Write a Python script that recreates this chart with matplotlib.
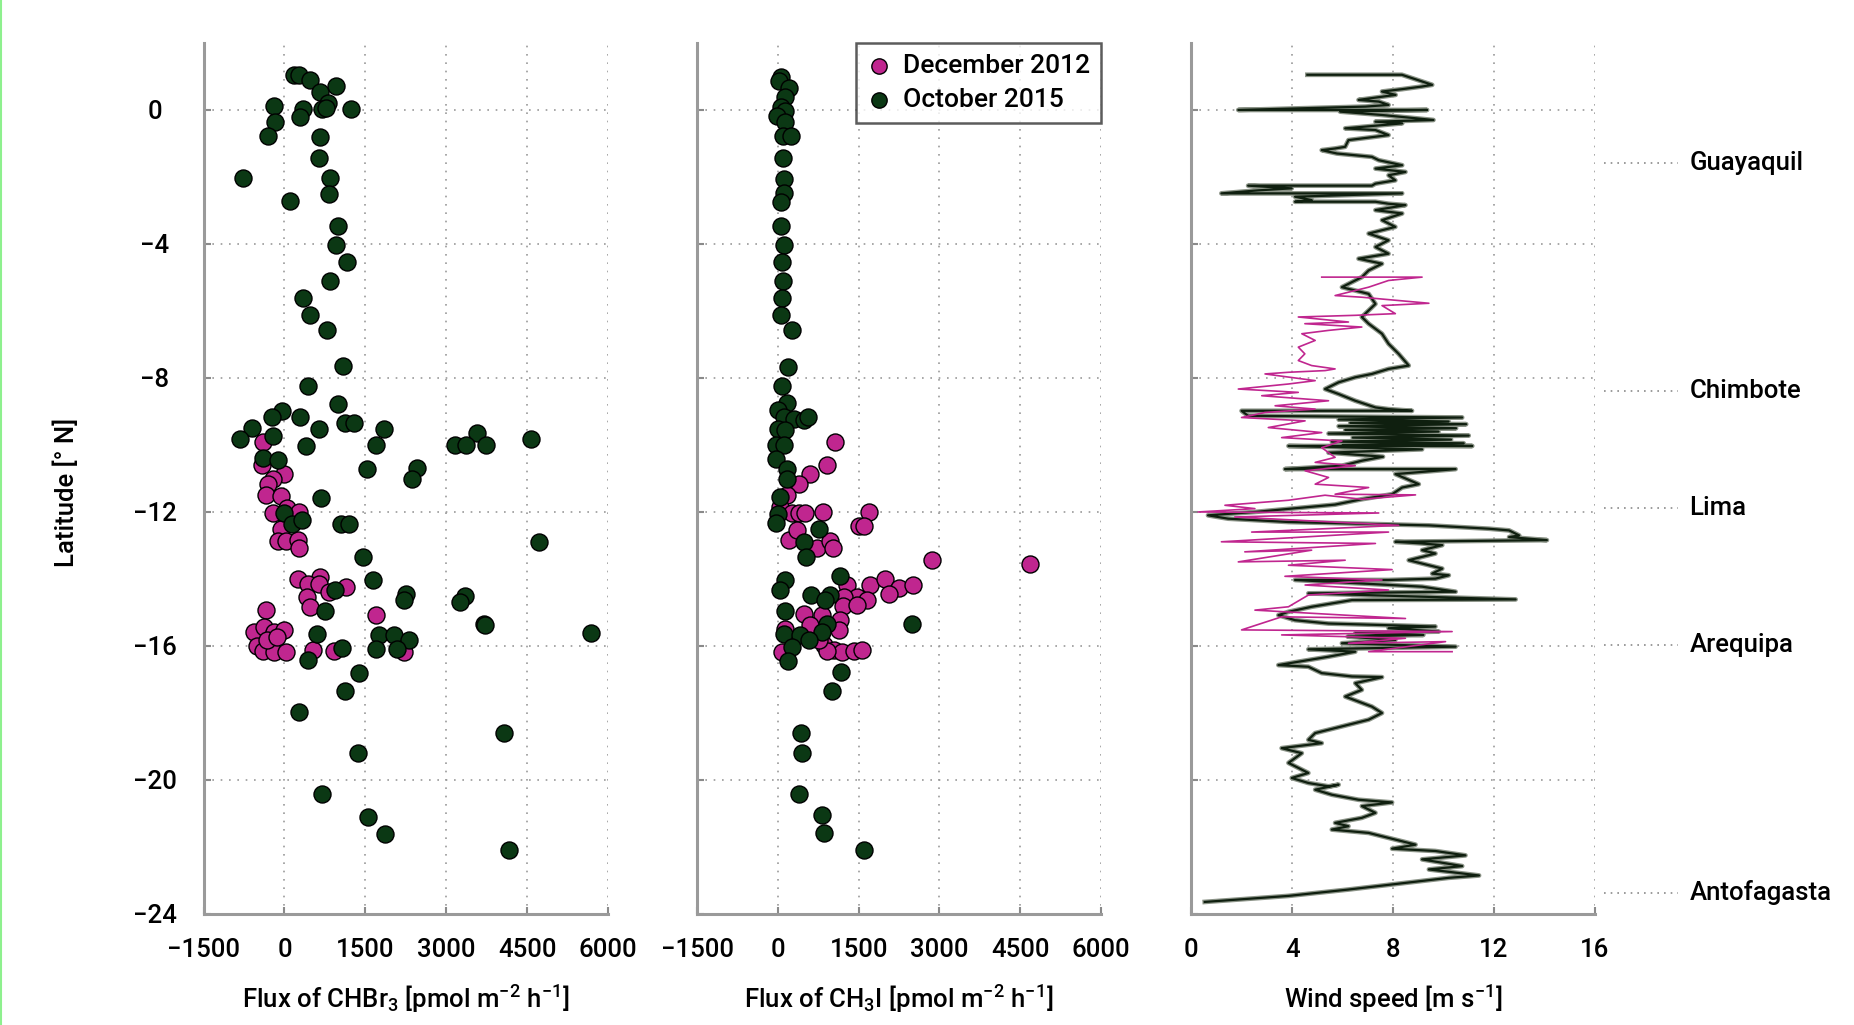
import matplotlib
matplotlib.use("Agg")
import matplotlib.pyplot as plt
import matplotlib.patheffects as pe
from matplotlib.lines import Line2D

plt.rcParams["font.family"] = ["Roboto", "DejaVu Sans"]
plt.rcParams["font.weight"] = "medium"
plt.rcParams["axes.labelweight"] = "medium"
plt.rcParams["mathtext.fontset"] = "custom"
plt.rcParams["mathtext.rm"] = "Roboto:medium"
plt.rcParams["mathtext.it"] = "Roboto:italic"

PINK = "#c0268f"
GREEN = "#0b3814"
LINE_DARK = "#0f1f0f"

# ---- CHBr3 flux (left panel) ----
chbr3_dec = [-395, -414, 0, -210, -309, -340, -62, 49, -210, 265, -62, -123, 19, 253, 278,
             253, 667, 432, 636, 1148, 821, 420, 481, 1704, -346, -568, -383, -198, -12,
             -506, -395, -185, 37, -321, 531, 926, 2210, -136]
lat_chbr3_dec = [-9.92, -10.61, -10.86, -11.01, -11.17, -11.48, -11.52, -11.87, -12.03, -12.00,
                 -12.50, -12.88, -12.88, -12.85, -13.09, -13.99, -13.94, -14.16, -14.14, -14.24,
                 -14.39, -14.54, -14.84, -15.08, -14.94, -15.58, -15.43, -15.58, -15.51, -16.01,
                 -16.15, -16.18, -16.18, -15.83, -16.13, -16.15, -16.18, -15.73]

chbr3_oct = [173, 265, 481, 963, 660, 802, -185, 340, 698, 778, 1241, 296, -179, -302, 660,
             636, -765, 840, 827, 105, 988, 951, 1167, 840, 340, 469, 784,
             1080, 432, 1000, -49, -228, 284, 1117, 1296, 1840, -593, 636, -210, -833, 401,
             1698, 3568, 3167, 3370, 3741, 4562, -395, -123, 1525, 2463, 2358, 679, -6, 148,
             327, 1049, 1204, 4716, 1457, 1636, 2253, 2222, 3340, 3259, 944, 759, 3692, 3710,
             5685, 605, 1747, 2037, 2315, 1698, 2086, 1068, 438, 1377, 1123,
             265, 4068, 1364, 691, 1549, 1870, 4161]
lat_chbr3_oct = [1.03, 1.03, 0.88, 0.70, 0.53, 0.20, 0.12, 0.03, 0.02, 0.05, 0.02, -0.20, -0.36,
                 -0.77, -0.80, -1.44, -2.04, -2.03, -2.51, -2.73, -3.45, -4.04, -4.55, -5.12,
                 -5.61, -6.13, -6.58,
                 -7.65, -8.25, -8.77, -8.99, -9.18, -9.18, -9.33, -9.33, -9.52, -9.49, -9.51,
                 -9.72, -9.82, -10.04, -10.01, -9.64, -10.01, -10.01, -10.01, -9.82, -10.39,
                 -10.44, -10.72, -10.69, -11.02, -11.58, -12.03, -12.35, -12.25, -12.35, -12.35,
                 -12.90, -13.35, -14.03, -14.44, -14.64, -14.51, -14.69, -14.34, -14.97, -15.35,
                 -15.37, -15.60, -15.65, -15.67, -15.67, -15.83, -16.08, -16.08, -16.05, -16.43,
                 -16.80, -17.35,
                 -17.97, -18.60, -19.18, -20.43, -21.09, -21.61, -22.10]

# ---- CH3I flux (middle panel) ----
ch3i_dec = [1064, 909, 588, 384, 167, 31, 260, 384, 507, 835, 1683, 1497, 1590, 198, 353,
            724, 971, 1021, 2864, 4683, 1281, 1713, 1992, 2252, 2066, 2505, 1466, 1652, 1219,
            1206, 1466, 476, 816, 1157, 1126, 136, 600, 847, 1033, 1188, 1404, 1559, 74, 909,
            755]
lat_ch3i_dec = [-9.91, -10.61, -10.86, -11.17, -11.50, -11.85, -12.03, -12.03, -12.03, -12.00,
                -12.00, -12.43, -12.43, -12.85, -12.55, -13.09, -12.87, -13.09, -13.42, -13.54,
                -14.19, -14.19, -13.99, -14.26, -14.44, -14.19, -14.54, -14.62, -14.54, -14.82,
                -14.79, -15.05, -15.08, -15.23, -15.53, -15.48, -15.38, -15.98, -16.13, -16.18,
                -16.15, -16.11, -16.18, -16.15, -15.83]

ch3i_oct = [56, 17, 202, 135, 50, 135, -17, 135, 96, 247, 96, 117, 117, 50, 50, 117, 69, 82,
            69, 50, 262, 182, 69,
            167, -6, 105, 303, 476, 551, -6, 136, -31, 105, -31, 167, 167, 31, -6, -31, 755,
            489, 520, 1157, 136, 43, 612, 959, 878, 136, 2499, 909, 105, 414, 816, 569, 260,
            179, 1169, 1002,
            427, 447, 388, 818, 857, 1594]
lat_ch3i_oct = [0.99, 0.87, 0.67, 0.38, 0.08, -0.02, -0.17, -0.37, -0.79, -0.79, -1.44, -2.06,
                -2.49, -2.76, -3.45, -4.03, -4.55, -5.12, -5.61, -6.12, -6.58, -7.66, -8.25,
                -8.75, -8.97, -9.16, -9.21, -9.26, -9.18, -9.51, -9.56, -10.01, -10.01, -10.41,
                -10.71, -11.02, -11.55, -12.05, -12.33, -12.50, -12.90, -13.34, -13.92, -14.02,
                -14.32, -14.47, -14.49, -14.64, -14.97, -15.33, -15.33, -15.63, -15.68, -15.58,
                -15.83, -16.03, -16.45, -16.78, -17.35,
                -18.60, -19.18, -20.42, -21.06, -21.58, -22.08]

# ---- Wind speed (right panel) ----
wind_oct = [4.6, 8.35, 9.55, 9.15, 8.35, 7.56, 8.1, 6.63, 7.43, 7.82, 6.9, 1.86, 9.35, 5.9,
            7.56, 9.6, 7.3, 8.36, 6.1, 7.3, 7.82, 6.23, 6.1, 5.7, 5.17, 5.77, 7.16, 7.43, 8.36,
            7.3, 8.49, 7.82, 8.09, 7.3, 7.16, 2.25, 3.98, 2.65, 1.19, 8.36, 4.11, 4.77, 4.11,
            7.3, 7.82, 8.49, 7.3, 8.36, 7.56, 8.09, 7.03, 7.82, 7.3, 7.82, 6.63, 7.56, 7.03,
            6.76, 5.97, 7.03, 7.3, 6.76, 7.03, 7.56, 7.82, 8.22, 8.62, 7.82, 7.16, 6.5, 5.84,
            5.3, 5.84, 6.5, 7.3, 7.82, 8.75, 1.99, 2.25, 10.74, 5.84, 10.2, 6.3, 10.9, 5.84,
            10.5, 6.1, 9.8, 5.44, 11.0, 6.4, 10.3, 5.57, 10.8, 6.0, 11.14, 3.85, 9.15, 5.44,
            7.6, 6.76, 5.97, 3.71, 10.48, 8.09, 9.02, 8.36, 7.96, 6.76, 5.7, 4.24, 2.52, 0.66,
            1.46, 3.85, 9.42, 11.8, 12.6, 13.0, 12.6, 14.1, 8.09, 9.15, 9.95, 9.15, 9.68, 8.62,
            9.42, 9.95, 9.55, 10.21, 9.68, 7.82, 4.11, 9.15, 10.48, 4.64, 12.86, 6.37, 4.77,
            3.85, 3.45, 4.11, 5.44, 9.68, 7.82, 9.81, 6.5, 9.2, 6.2, 8.09, 5.97, 10.48, 4.64,
            6.5, 5.44, 3.45, 4.64, 5.17, 6.37, 7.56, 6.5, 6.76, 6.1, 7.16, 7.56, 7.03, 5.97,
            4.91, 4.64, 5.17, 3.58, 4.38, 3.85, 4.64, 3.98, 4.64, 5.44, 5.84, 4.91, 5.57, 6.63,
            7.96, 6.76, 7.3, 6.76, 5.7, 6.23, 5.57, 7.03, 8.09, 8.89, 7.96, 9.68, 10.87, 9.15,
            10.74, 9.42, 11.41, 10.21, 8.49, 6.23, 3.85, 0.53]
lat_oct = [1.05, 1.05, 0.75, 0.7, 0.62, 0.55, 0.45, 0.3, 0.25, 0.15, 0.1, 0.0, 0.0, -0.05,
           -0.15, -0.3, -0.35, -0.4, -0.55, -0.6, -0.75, -0.9, -1.1, -1.15, -1.2, -1.3, -1.4,
           -1.5, -1.65, -1.75, -1.85, -1.95, -2.1, -2.2, -2.26, -2.26, -2.34, -2.4, -2.49,
           -2.49, -2.59, -2.69, -2.74, -2.74, -2.8, -2.84, -2.99, -3.09, -3.29, -3.49, -3.69,
           -3.89, -4.09, -4.29, -4.44, -4.59, -4.79, -4.99, -5.29, -5.49, -5.79, -6.18, -6.38,
           -6.68, -6.98, -7.28, -7.63, -7.73, -7.88, -7.98, -8.13, -8.33, -8.48, -8.68, -8.88,
           -8.93, -8.98, -8.98, -9.13, -9.18, -9.24, -9.3, -9.34, -9.38, -9.44, -9.5, -9.55,
           -9.6, -9.66, -9.72, -9.78, -9.84, -9.9, -9.95, -10.0, -10.03, -10.03, -10.13,
           -10.23, -10.35, -10.47, -10.62, -10.72, -10.72, -10.87, -11.17, -11.27, -11.47,
           -11.62, -11.78, -11.88, -12.0, -12.1, -12.2, -12.3, -12.4, -12.5, -12.55, -12.7,
           -12.75, -12.84, -12.89, -12.94, -12.99, -13.14, -13.24, -13.44, -13.59, -13.69,
           -13.84, -13.89, -13.99, -14.03, -14.03, -14.23, -14.38, -14.43, -14.61, -14.63,
           -14.83, -14.98, -15.08, -15.23, -15.33, -15.42, -15.47, -15.57, -15.62, -15.67,
           -15.72, -15.82, -15.92, -16.02, -16.1, -16.17, -16.32, -16.57, -16.62, -16.81,
           -16.91, -16.93, -17.11, -17.31, -17.51, -17.81, -18.0, -18.2, -18.4, -18.6, -18.8,
           -18.9, -19.05, -19.2, -19.49, -19.79, -19.94, -20.09, -20.19, -20.14, -20.29,
           -20.44, -20.59, -20.67, -20.78, -20.98, -21.13, -21.28, -21.38, -21.48, -21.58,
           -21.78, -21.93, -22.05, -22.12, -22.25, -22.37, -22.57, -22.67, -22.85, -22.92,
           -23.07, -23.27, -23.46, -23.64]

wind_dec = [5.17, 9.15, 7.82, 7.03, 5.7, 6.76, 9.42, 7.56, 8.09, 6.5, 4.24, 6.23, 4.5, 6.76,
            5.44, 4.38, 4.91, 4.24, 4.5, 4.24, 4.77, 5.7, 5.3, 3.85, 2.92, 4.91, 3.85, 1.86,
            4.24, 2.79, 5.44, 3.32, 4.91, 2.92, 1.99, 4.51, 3.05, 5.17, 3.58, 5.97, 5.17, 5.7,
            4.91, 6.5, 4.51, 5.44, 4.91, 7.03, 5.7, 8.89, 6.76, 5.3, 3.85, 1.33, 2.52, 0.27,
            7.43, 1.72, 8.22, 2.39, 7.82, 1.19, 7.3, 2.12, 4.77, 1.86, 6.1, 3.85, 7.96, 3.71,
            7.56, 4.51, 7.82, 4.64, 3.85, 2.52, 8.49, 3.58, 1.99, 10.34, 3.58, 8.49, 6.23,
            10.08, 7.03, 10.34]
lat_dec = [-4.99, -4.99, -5.09, -5.29, -5.54, -5.59, -5.77, -5.84, -6.08, -6.13, -6.18, -6.33,
           -6.38, -6.48, -6.58, -6.68, -6.88, -7.08, -7.28, -7.48, -7.63, -7.73, -7.78, -7.83,
           -7.88, -8.08, -8.18, -8.33, -8.43, -8.53, -8.68, -8.83, -8.93, -9.03, -9.18, -9.28,
           -9.48, -9.63, -9.78, -9.88, -10.08, -10.37, -10.52, -10.62, -10.77, -10.97, -11.17,
           -11.27, -11.47, -11.49, -11.62, -11.5, -11.65, -11.8, -11.9, -12.0, -12.03, -12.15,
           -12.4, -12.6, -12.6, -12.89, -12.94, -13.19, -13.14, -13.49, -13.44, -13.59, -13.72,
           -13.92, -14.03, -14.18, -14.33, -14.48, -14.83, -14.93, -15.18, -15.13, -15.52,
           -15.57, -15.67, -15.77, -15.92, -15.87, -16.17, -16.17]

cities = ["Guayaquil", "Chimbote", "Lima", "Arequipa", "Antofagasta"]
city_lat = [-1.59, -8.39, -11.87, -15.96, -23.37]

FS = 18.5
fig = plt.figure(figsize=(18.54, 10.25), dpi=100)
fig.patch.set_facecolor("white")

bottom, height = 0.1083, 0.8498
ax1 = fig.add_axes([0.1098, bottom, 0.2182, height])
ax2 = fig.add_axes([0.3762, bottom, 0.2175, height])
ax3 = fig.add_axes([0.6426, bottom, 0.2176, height])


def style(ax, xlim, xticks):
    ax.set_xlim(*xlim)
    ax.set_ylim(-24, 2)
    ax.set_xticks(xticks)
    ax.set_yticks([0, -4, -8, -12, -16, -20, -24])
    for s in ["top", "right"]:
        ax.spines[s].set_visible(False)
    for s in ["left", "bottom"]:
        ax.spines[s].set_color("#9a9a9a")
        ax.spines[s].set_linewidth(2.2)
    ax.tick_params(direction="in", length=5, width=1.5, color="#8a8a8a",
                   labelsize=FS, pad=17)
    ax.tick_params(axis="y", pad=35)
    ax.grid(True, linestyle=(0, (1, 4)), color="#9a9a9a", linewidth=1.2)
    ax.set_axisbelow(True)
    for lbl in ax.get_yticklabels():
        lbl.set_horizontalalignment("center")


flux_ticks = [-1500, 0, 1500, 3000, 4500, 6000]
style(ax1, (-1500, 6000), flux_ticks)
style(ax2, (-1500, 6000), flux_ticks)
style(ax3, (0, 16), [0, 4, 8, 12, 16])
ax2.set_yticklabels([])
ax3.set_yticklabels([])

sc_kw = dict(s=150, edgecolors="black", linewidths=1.0, zorder=3, clip_on=False)
ax1.scatter(chbr3_dec, lat_chbr3_dec, color=PINK, **sc_kw)
ax1.scatter(chbr3_oct, lat_chbr3_oct, color=GREEN, **sc_kw)
ax2.scatter(ch3i_dec, lat_ch3i_dec, color=PINK, label="December 2012", **sc_kw)
ax2.scatter(ch3i_oct, lat_ch3i_oct, color=GREEN, label="October 2015", **sc_kw)

halo = [pe.Stroke(linewidth=3.4, foreground="#8c9488"), pe.Normal()]
ax3.plot(wind_oct, lat_oct, color=LINE_DARK, linewidth=1.6, zorder=3, path_effects=halo)
ax3.plot(wind_dec, lat_dec, color=PINK, linewidth=1.2, zorder=4)

# city markers to the right of the wind panel
for name, lat in zip(cities, city_lat):
    ax3.plot([16.35, 19.3], [lat, lat], linestyle=(0, (1, 3)), color="#8a8a8a",
             linewidth=1.2, clip_on=False)
    ax3.text(19.75, lat, name, fontsize=FS, va="center", ha="left", color="black")

leg = ax2.legend(loc="upper right", bbox_to_anchor=(1.0, 1.0), borderaxespad=0,
                 fontsize=FS + 0.5, frameon=True, fancybox=False, handletextpad=0.4,
                 borderpad=0.4, labelspacing=0.4, handlelength=1.0, markerscale=0.9)
leg.get_frame().set_edgecolor("#333333")
leg.get_frame().set_linewidth(1.8)

ax1.set_ylabel("Latitude [° N]", fontsize=FS)
ax1.yaxis.set_label_coords(-0.308, 0.4845)
ax1.set_xlabel("Flux of CHBr$_3$ [pmol m$^{-2}$ h$^{-1}$]", fontsize=FS)
ax2.set_xlabel("Flux of CH$_3$I [pmol m$^{-2}$ h$^{-1}$]", fontsize=FS)
ax3.set_xlabel("Wind speed [m s$^{-1}$]", fontsize=FS)
for ax in (ax1, ax2, ax3):
    ax.xaxis.set_label_coords(0.5, -0.097)
    ax.xaxis.label.set_verticalalignment("center")

# thin green border line at the left edge of the original image
fig.add_artist(Line2D([0.0005, 0.0005], [0, 1], color="#8ef08e", linewidth=1.5,
                      transform=fig.transFigure))

fig.savefig("out.png", dpi=100)
